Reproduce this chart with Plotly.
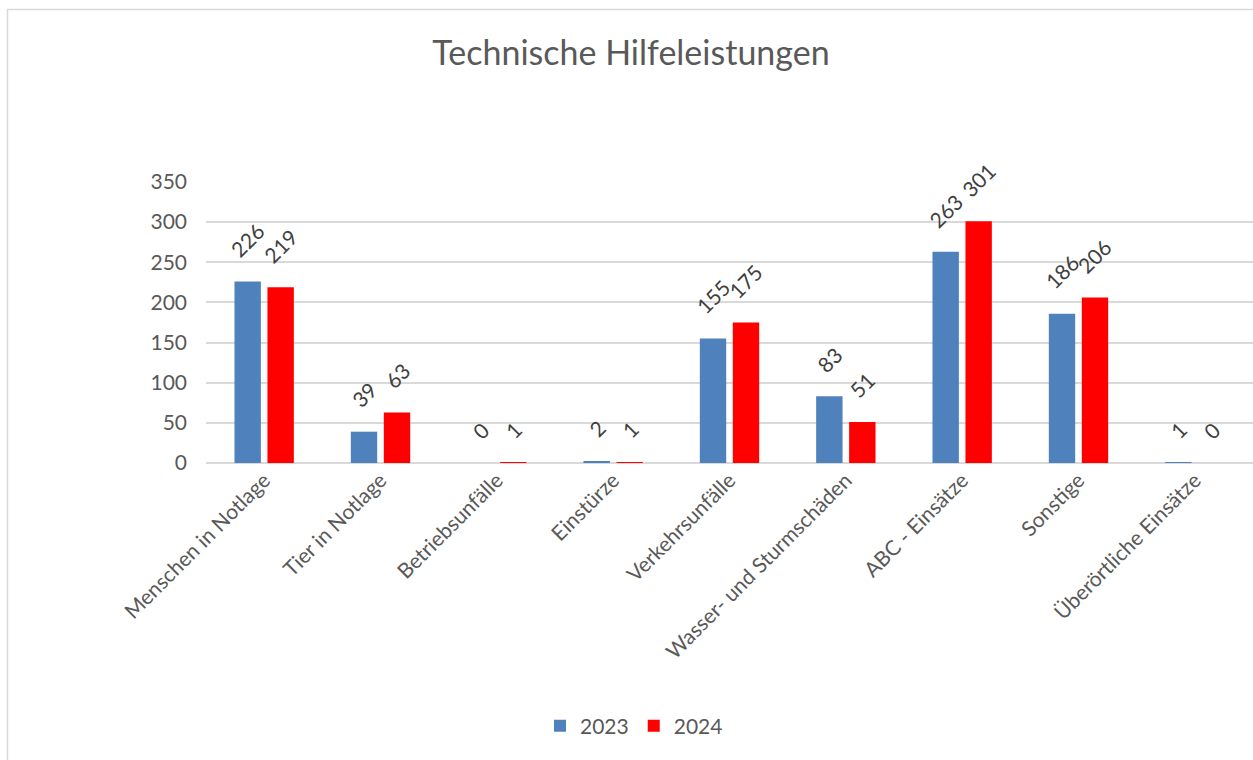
import plotly.graph_objects as go

categories = ["Menschen in Notlage", "Tier in Notlage", "Betriebsunfälle", "Einstürze",
              "Verkehrsunfälle", "Wasser- und Sturmschäden", "ABC - Einsätze", "Sonstige",
              "Überörtliche Einsätze"]
values_2023 = [226, 39, 0, 2, 155, 83, 263, 186, 1]
values_2024 = [219, 63, 1, 1, 175, 51, 301, 206, 0]
series_names = ["2023", "2024"]
y_ticks = [0, 50, 100, 150, 200, 250, 300, 350]

FONT = "Lato, Carlito, Calibri, 'Open Sans', sans-serif"
colors = ["#4F81BD", "#FF0000"]

W, H = 1253, 760
L, R, T, B = 206, 0, 182, 297
pw, ph = W - L - R, H - T - B

def px_to_paper_x(px):
    return (px - L) / pw

def px_to_paper_y(py):
    return (H - B - py) / ph

fig = go.Figure()
for name, vals, col in zip(series_names, [values_2023, values_2024], colors):
    fig.add_trace(go.Bar(
        x=categories, y=vals, name=name,
        marker=dict(color=col, line=dict(width=0)),
        cliponaxis=False,
    ))

# data labels, rotated, above each bar
cat_w = pw / len(categories)
bargap, bargroupgap = 0.433, 0.2
slot = cat_w * (1 - bargap) / 2
offsets = [-slot / 2, slot / 2]
for vals, off in zip([values_2023, values_2024], offsets):
    for c, v in zip(categories, vals):
        fig.add_annotation(x=c, y=v, text=str(v), showarrow=False,
                           textangle=-45, xanchor="center", yanchor="bottom",
                           xshift=off, yshift=17,
                           font=dict(family=FONT, size=21, color="#404040"))

fig.update_layout(
    width=W, height=H,
    margin=dict(l=L, r=R, t=T, b=B, pad=0),
    paper_bgcolor="white", plot_bgcolor="white",
    barmode="group", bargap=bargap, bargroupgap=bargroupgap,
    title=dict(text="Technische Hilfeleistungen", x=631 / W, xanchor="center",
               y=1 - 53 / H, yanchor="middle",
               font=dict(family=FONT, size=34, color="#595959")),
    legend=dict(orientation="h", x=px_to_paper_x(634), xanchor="center",
                y=px_to_paper_y(726), yanchor="middle",
                font=dict(family=FONT, size=21, color="#595959"),
                traceorder="normal"),
    showlegend=True,
    font=dict(family=FONT),
)
fig.update_yaxes(range=[0, 350], tickvals=y_ticks, showgrid=True,
                 gridcolor="#D9D9D9", gridwidth=1.5, zeroline=True,
                 zerolinecolor="#D9D9D9", zerolinewidth=1.5,
                 showline=False, ticklabelstandoff=18,
                 tickfont=dict(family=FONT, size=21, color="#595959"))
fig.update_xaxes(tickangle=-45, showgrid=False, showline=False, ticks="",
                 tickfont=dict(family=FONT, size=21, color="#595959"))

fig.add_shape(type="rect", xref="paper", yref="paper",
              x0=px_to_paper_x(7.5), x1=px_to_paper_x(W + 20),
              y0=px_to_paper_y(H + 20), y1=px_to_paper_y(9.5),
              line=dict(color="#D9D9D9", width=1.5), layer="below")

fig.write_html("out.html", config={"displayModeBar": False},
               post_script="document.body.style.margin='0';document.body.style.overflow='hidden';")
